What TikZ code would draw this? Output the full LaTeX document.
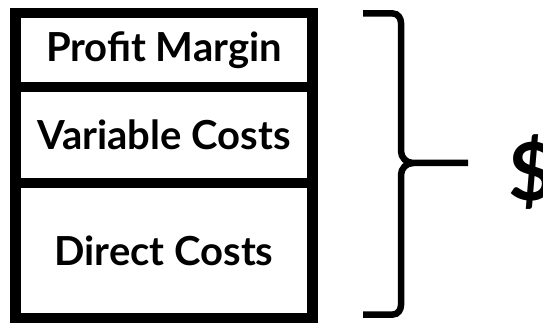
\documentclass[tikz,border=0pt]{standalone}
\usepackage{fontspec}
\setmainfont{Lato}
\usetikzlibrary{positioning}
\begin{document}
\begin{tikzpicture}[x=1pt,y=-1pt,
  layer/.style={draw,line width=10.5pt,minimum width=297pt,outer sep=0pt,inner sep=0pt,font=\fontsize{40}{42}\selectfont\bfseries},
  brace/.style={line width=6.5pt,line cap=butt}]
\useasboundingbox (0,0) rectangle (543,323);
\node[layer,minimum height=74pt] (profit) at (164,50) {Profit Margin};
\node[layer,minimum height=96pt,below=0pt of profit] (variable) {Variable Costs};
\node[layer,minimum height=135pt,below=0pt of variable] (direct) {Direct Costs};
\node[font=\fontsize{80}{80}\selectfont\bfseries] (dollar) at (532,172) {\$};
\coordinate (tip) at (468,163);
\draw[brace] (363,13.5) -- (393,13.5) to[out=0,in=90] (401,23) -- (401,151)
  to[out=-90,in=180] (413,163) -- (tip);
\draw[brace] (413,163) to[out=180,in=90] (401,175) -- (401,305)
  to[out=-90,in=0] (393,314.5) -- (363,314.5);
\end{tikzpicture}
\end{document}
